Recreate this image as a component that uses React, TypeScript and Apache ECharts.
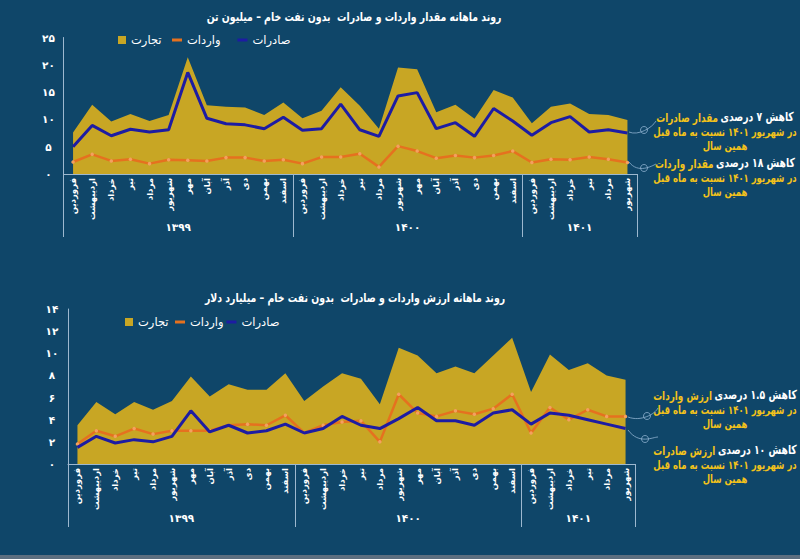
import React, { useEffect, useRef } from 'react';
import * as echarts from 'echarts';

// ---- data ----
const months = ['فروردین', 'اردیبهشت', 'خرداد', 'تیر', 'مرداد', 'شهریور', 'مهر', 'آبان', 'آذر', 'دی', 'بهمن', 'اسفند'];
const yearLabels = ['۱۳۹۹', '۱۴۰۰', '۱۴۰۱'];
const yearMonthCounts = [12, 12, 6];
const categories = yearMonthCounts.flatMap((n) => months.slice(0, n));

const seriesNames = ['تجارت', 'واردات', 'صادرات'];

// million tonnes
const volTrade = [7.6, 12.7, 9.6, 11.0, 9.7, 10.8, 21.4, 12.6, 12.3, 12.2, 10.8, 13.1, 10.2, 11.6, 15.9, 12.5, 8.3, 19.5, 19.2, 11.3, 12.7, 10.1, 15.4, 14.0, 9.3, 12.3, 12.9, 11.0, 10.8, 9.9];
const volImports = [2.2, 3.6, 2.4, 2.7, 1.9, 2.6, 2.5, 2.4, 3.0, 3.0, 2.4, 2.6, 1.9, 3.1, 3.1, 3.7, 1.3, 5.1, 4.2, 2.9, 3.4, 3.0, 3.4, 4.2, 2.1, 2.7, 2.6, 3.1, 2.7, 2.1];
const volExports = [5.0, 8.9, 7.0, 8.2, 7.7, 8.1, 18.6, 10.2, 9.2, 9.0, 8.3, 10.4, 8.0, 8.3, 12.8, 8.1, 6.9, 14.3, 14.9, 8.3, 9.4, 6.9, 12.0, 9.7, 7.1, 9.4, 10.5, 7.7, 8.1, 7.5];

// billion dollars
const valTrade = [3.5, 5.6, 4.5, 5.6, 4.9, 5.7, 7.9, 6.1, 7.2, 6.7, 6.7, 8.2, 5.7, 7.0, 8.2, 7.7, 5.4, 10.5, 9.8, 8.2, 8.8, 8.2, 9.8, 11.4, 6.5, 9.9, 8.5, 9.1, 8.0, 7.6];
const valImports = [1.8, 3.0, 2.5, 3.2, 2.7, 3.0, 3.0, 3.0, 3.5, 3.6, 3.5, 4.4, 2.8, 3.5, 3.8, 3.9, 2.0, 6.3, 4.6, 4.3, 4.8, 4.5, 5.0, 6.3, 2.8, 5.1, 4.0, 4.9, 4.3, 4.3];
const valExports = [1.5, 2.5, 1.9, 2.2, 2.0, 2.5, 4.8, 2.9, 3.5, 2.8, 3.0, 3.6, 2.8, 3.2, 4.3, 3.5, 3.2, 4.1, 5.1, 3.9, 3.9, 3.5, 4.6, 4.9, 3.6, 4.6, 4.4, 4.0, 3.6, 3.2];

const titleVol = 'روند ماهانه مقدار واردات و صادرات  بدون نفت خام – میلیون تن';
const titleVal = 'روند ماهانه ارزش واردات و صادرات  بدون نفت خام – میلیارد دلار';
const noteLine2 = 'در شهریور ۱۴۰۱ نسبت به ماه قبل';
const noteLine3 = 'همین سال';

// ---- styles ----
const BG = '#0f4669';
const GOLD = '#c8a624';
const ORANGE = '#e5711f';
const ORANGE_DOT = '#f3a15f';
const BLUE = '#1d1ca3';
const AXIS = '#9db8cf';
const GOLD_TXT = '#f2c21b';
const FONT = 'DejaVu Sans';

const fa = (s: string | number) => String(s).replace(/\d/g, (d) => '۰۱۲۳۴۵۶۷۸۹'[+d]);

const yearCenters: number[] = [];
{
  let acc = 0;
  for (const n of yearMonthCounts) {
    yearCenters.push(acc + n / 2);
    acc += n;
  }
}

function buildAxes(gridIndex: number, yMax: number, yInterval: number, yMargin: number, yearMargin: number) {
  const catAxis = {
    type: 'category',
    gridIndex,
    data: categories,
    boundaryGap: true,
    axisLine: { show: true, lineStyle: { color: AXIS, width: 1 } },
    axisTick: {
      show: true,
      interval: (i: number) => i % 12 === 0,
      length: 63,
      lineStyle: { color: AXIS, width: 1 },
    },
    axisLabel: {
      interval: 0,
      rotate: 90,
      margin: 4,
      color: '#ffffff',
      fontSize: 8.5,
      fontWeight: 'bold',
      fontFamily: FONT,
    },
  };
  const yearAxis = {
    type: 'value',
    gridIndex,
    position: 'bottom',
    min: 0,
    max: categories.length,
    interval: 1,
    axisLine: { show: false },
    axisTick: { show: false },
    splitLine: { show: false },
    axisLabel: {
      margin: yearMargin,
      color: '#ffffff',
      fontSize: 10.5,
      fontWeight: 'bold',
      fontFamily: FONT,
      formatter: (v: number) => {
        const i = yearCenters.indexOf(v);
        return i >= 0 ? yearLabels[i] : '';
      },
    },
  };
  const yAxis = {
    type: 'value',
    gridIndex,
    min: 0,
    max: yMax,
    interval: yInterval,
    axisLine: { show: true, lineStyle: { color: AXIS, width: 1 } },
    axisTick: { show: false },
    splitLine: { show: false },
    axisLabel: {
      margin: yMargin,
      align: 'center',
      color: '#ffffff',
      fontSize: 10.5,
      fontWeight: 'bold',
      fontFamily: FONT,
      formatter: (v: number) => fa(v),
    },
  };
  return { catAxis, yearAxis, yAxis };
}

function buildSeries(xAxisIndex: number, yAxisIndex: number, trade: number[], imports: number[], exports: number[]) {
  return [
    {
      name: seriesNames[0],
      type: 'line',
      xAxisIndex,
      yAxisIndex,
      data: trade,
      symbol: 'none',
      color: GOLD,
      lineStyle: { width: 0, opacity: 0 },
      areaStyle: { color: GOLD, opacity: 1 },
      z: 1,
    },
    {
      name: seriesNames[1],
      type: 'line',
      xAxisIndex,
      yAxisIndex,
      data: imports,
      color: ORANGE,
      symbol: 'circle',
      symbolSize: 3.5,
      showSymbol: true,
      itemStyle: { color: ORANGE_DOT },
      lineStyle: { color: ORANGE, width: 2.5 },
      z: 2,
    },
    {
      name: seriesNames[2],
      type: 'line',
      xAxisIndex,
      yAxisIndex,
      data: exports,
      color: BLUE,
      symbol: 'none',
      lineStyle: { color: BLUE, width: 3 },
      z: 3,
    },
  ];
}

const legendText = { color: '#ffffff', fontSize: 11.5, fontFamily: FONT };

const NOTE_SCALE = 0.74;
const TITLE_SCALE = 0.78;

function annotation(x: number, y: number, white: string, gold: string) {
  const line = (text: string, dy: number) => ({
    type: 'text',
    x,
    y: y + dy,
    scaleX: NOTE_SCALE,
    style: {
      text,
      fill: GOLD_TXT,
      fontSize: 11.5,
      fontWeight: 'bold',
      fontFamily: FONT,
      align: 'center',
      verticalAlign: 'middle',
    },
  });
  return [
    {
      type: 'text',
      x,
      y,
      scaleX: NOTE_SCALE,
      style: {
        text: `{g|${gold}} {w|${white}}`,
        align: 'center',
        verticalAlign: 'middle',
        rich: {
          g: { fill: GOLD_TXT, fontSize: 12, fontWeight: 'bold', fontFamily: FONT },
          w: { fill: '#ffffff', fontSize: 12.5, fontWeight: 'bold', fontFamily: FONT },
        },
      },
    },
    line(noteLine2, 15),
    line(noteLine3, 29.5),
  ];
}

function connector(x1: number, y1: number, cx: number, cy: number, x2: number, y2: number) {
  return [
    {
      type: 'bezierCurve',
      shape: { x1, y1, cpx1: cx - 6, cpy1: cy + 6, cpx2: cx + 8, cpy2: cy - 2, x2, y2 },
      style: { stroke: '#8fb3d1', lineWidth: 0.8, fill: 'none' },
    },
    {
      type: 'circle',
      shape: { cx, cy, r: 3.5 },
      style: { stroke: '#8fb3d1', lineWidth: 0.8, fill: 'none' },
    },
  ];
}

export default function App() {
  const ref = useRef<HTMLDivElement>(null);

  useEffect(() => {
    if (!ref.current) return;
    const chart = echarts.init(ref.current, undefined, { renderer: 'svg' });
    const top = buildAxes(0, 25, 5, 15, 47);
    const bot = buildAxes(1, 14, 2, 16, 48);

    chart.setOption({
      animation: false,
      backgroundColor: BG,
      textStyle: { fontFamily: FONT },
      grid: [
        { left: 63.5, top: 37.5, width: 573.5, height: 136.5, containLabel: false },
        { left: 68, top: 309, width: 567, height: 155, containLabel: false },
      ],
      xAxis: [top.catAxis, top.yearAxis, bot.catAxis, bot.yearAxis],
      yAxis: [top.yAxis, bot.yAxis],
      legend: [
        {
          left: 118, top: 34, padding: 0, itemWidth: 8, itemHeight: 8, icon: 'rect',
          data: [{ name: seriesNames[0], itemStyle: { color: GOLD } }], textStyle: legendText,
        },
        {
          left: 172, top: 34, padding: 0, itemWidth: 10, itemHeight: 3, icon: 'rect', itemGap: 17,
          data: [
            { name: seriesNames[1], itemStyle: { color: ORANGE } },
            { name: seriesNames[2], itemStyle: { color: BLUE } },
          ],
          textStyle: legendText,
        },
        {
          left: 125, top: 316, padding: 0, itemWidth: 8, itemHeight: 8, icon: 'rect',
          data: [{ name: seriesNames[0], itemStyle: { color: GOLD } }], textStyle: legendText,
        },
        {
          left: 175, top: 316, padding: 0, itemWidth: 10, itemHeight: 3, icon: 'rect', itemGap: 3,
          data: [
            { name: seriesNames[1], itemStyle: { color: ORANGE } },
            { name: seriesNames[2], itemStyle: { color: BLUE } },
          ],
          textStyle: legendText,
        },
      ],
      series: [
        ...buildSeries(0, 0, volTrade, volImports, volExports),
        ...buildSeries(2, 1, valTrade, valImports, valExports),
      ],
      graphic: [
        {
          type: 'text', x: 354, y: 17, scaleX: TITLE_SCALE,
          style: { text: titleVol, fill: '#ffffff', fontSize: 12, fontWeight: 'bold', fontFamily: FONT, align: 'center', verticalAlign: 'middle' },
        },
        {
          type: 'text', x: 355, y: 298, scaleX: TITLE_SCALE,
          style: { text: titleVal, fill: '#ffffff', fontSize: 12, fontWeight: 'bold', fontFamily: FONT, align: 'center', verticalAlign: 'middle' },
        },
        ...annotation(725, 117, 'کاهش ۷ درصدی', 'مقدار صادرات'),
        ...annotation(725, 163, 'کاهش ۱۸ درصدی', 'مقدار واردات'),
        ...annotation(725, 395, 'کاهش ۱.۵ درصدی', 'ارزش واردات'),
        ...annotation(725, 450, 'کاهش ۱۰ درصدی', 'ارزش صادرات'),
        ...connector(629, 132, 644, 130, 656, 121),
        ...connector(629, 162, 644, 168, 656, 164),
        ...connector(628, 417, 647, 416, 658, 408),
        ...connector(628, 430, 645, 439, 658, 437),
        {
          type: 'rect', shape: { x: 0, y: 555, width: 800, height: 4 },
          style: { fill: '#5d6f80' },
        },
      ],
    });
    return () => chart.dispose();
  }, []);

  return (
    <div
      ref={ref}
      style={{ position: 'absolute', left: 0, top: 0, width: 800, height: 559, background: BG }}
    />
  );
}
